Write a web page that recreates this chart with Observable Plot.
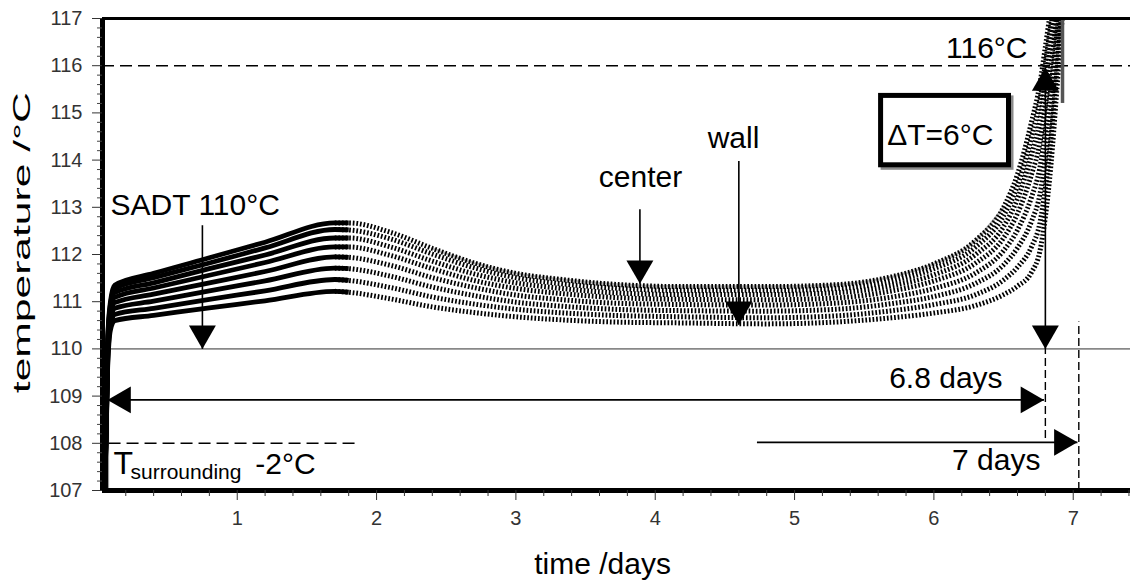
<!DOCTYPE html>
<html><head><meta charset="utf-8">
<script src="https://cdn.jsdelivr.net/npm/d3@7"></script>
<script src="https://cdn.jsdelivr.net/npm/@observablehq/plot@0.6"></script>
<style>
html,body{margin:0;padding:0;background:#fff;}
#chart{width:1130px;height:580px;overflow:hidden;}
</style></head><body><div id="chart"></div>
<script>
// ---- data ----
const days = [0.05, 0.07, 0.09, 0.12, 0.4, 0.8, 1.2, 1.7, 1.8, 2.1, 2.4, 2.7, 3.0, 3.3, 3.7, 4.2, 4.8, 5.3, 5.7, 6.0, 6.3, 6.5, 6.6, 6.7, 6.76, 6.8, 6.84, 6.88, 6.92];
const curveCenter = [107.0, 110.2, 111.0, 111.35, 111.6, 111.93, 112.26, 112.67, 112.67, 112.47, 112.13, 111.82, 111.6, 111.48, 111.37, 111.32, 111.32, 111.36, 111.53, 111.8, 112.3, 113.0, 113.7, 114.8, 115.6, 116.4, 117.2, 117.8, 118.4];
const curve2 = [107.0, 110.14, 110.94, 111.28, 111.51, 111.82, 112.14, 112.53, 112.52, 112.33, 112.01, 111.72, 111.51, 111.39, 111.29, 111.24, 111.24, 111.28, 111.44, 111.70, 112.16, 112.82, 113.46, 114.48, 115.25, 116.04, 116.87, 117.56, 118.26];
const curve3 = [107.0, 110.07, 110.87, 111.19, 111.40, 111.70, 111.99, 112.35, 112.35, 112.16, 111.86, 111.59, 111.40, 111.29, 111.19, 111.15, 111.15, 111.19, 111.34, 111.57, 112.00, 112.59, 113.18, 114.10, 114.82, 115.61, 116.47, 117.27, 118.09];
const curve4 = [107.0, 109.99, 110.79, 111.09, 111.29, 111.56, 111.83, 112.16, 112.16, 111.98, 111.70, 111.45, 111.28, 111.18, 111.09, 111.05, 111.04, 111.08, 111.23, 111.44, 111.82, 112.35, 112.87, 113.69, 114.36, 115.14, 116.05, 116.96, 117.91];
const curve5 = [107.0, 109.9, 110.7, 110.98, 111.16, 111.40, 111.64, 111.95, 111.94, 111.77, 111.51, 111.30, 111.14, 111.05, 110.97, 110.94, 110.93, 110.97, 111.10, 111.28, 111.61, 112.08, 112.52, 113.21, 113.83, 114.60, 115.55, 116.60, 117.70];
const curve6 = [107.0, 109.8, 110.6, 110.86, 111.01, 111.23, 111.44, 111.71, 111.70, 111.54, 111.31, 111.13, 110.99, 110.91, 110.84, 110.81, 110.80, 110.84, 110.96, 111.11, 111.39, 111.78, 112.14, 112.70, 113.26, 114.02, 115.02, 116.22, 117.48];
const curve7 = [107.0, 109.7, 110.5, 110.73, 110.86, 111.05, 111.23, 111.47, 111.45, 111.30, 111.10, 110.95, 110.84, 110.77, 110.71, 110.68, 110.66, 110.70, 110.81, 110.94, 111.15, 111.46, 111.73, 112.16, 112.66, 113.41, 114.46, 115.81, 117.24];
const curveWall = [107.0, 109.6, 110.4, 110.6, 110.71, 110.87, 111.02, 111.22, 111.2, 111.06, 110.89, 110.77, 110.68, 110.62, 110.57, 110.55, 110.53, 110.57, 110.66, 110.76, 110.92, 111.15, 111.33, 111.62, 112.06, 112.8, 113.9, 115.4, 117.0];

const xTicks = [1, 2, 3, 4, 5, 6, 7];
const xMinorTicks = [0.2,0.4,0.6,0.8,1.2,1.4,1.6,1.8,2.2,2.4,2.6,2.8,3.2,3.4,3.6,3.8,4.2,4.4,4.6,4.8,5.2,5.4,5.6,5.8,6.2,6.4,6.6,6.8,7.2,7.4];
const yTicks = [107, 108, 109, 110, 111, 112, 113, 114, 115, 116, 117];
const yMinorTicks = d3.range(107.2, 117, 0.2).filter(v => Math.abs(v - Math.round(v)) > 0.05);
const xDomain = [0.033, 7.411];
const yDomain = [107, 117];

// reference levels and annotations (chart units)
const sadtLevel = [110];
const limitLevel = [116];
const surroundLevel = [{y: 108, x1: 0.08, x2: 1.87}];
const shafts = [
  {x1: 0.75, y1: 112.62, x2: 0.75, y2: 110.0},
  {x1: 3.89, y1: 112.96, x2: 3.89, y2: 111.38},
  {x1: 4.6, y1: 113.98, x2: 4.6, y2: 110.51},
  {x1: 6.8, y1: 115.96, x2: 6.8, y2: 110.0},
  {x1: 0.069, y1: 108.92, x2: 6.79, y2: 108.92},
  {x1: 4.73, y1: 108.02, x2: 7.03, y2: 108.02}
];
const heads = [
  {x: 0.75, y: 110.0, dir: "down"},
  {x: 3.89, y: 111.38, dir: "down"},
  {x: 4.6, y: 110.51, dir: "down"},
  {x: 6.8, y: 110.0, dir: "down"},
  {x: 6.8, y: 115.96, dir: "up"},
  {x: 0.069, y: 108.92, dir: "left"},
  {x: 6.79, y: 108.92, dir: "right"},
  {x: 7.03, y: 108.02, dir: "right"}
];
const dashedVerticals = [{x: 7.04, y1: 107, y2: 110.57}, {x: 6.8, y1: 108.1, y2: 110}];
const boxDT = [{x1: 5.621, x2: 6.539, y1: 113.89, y2: 115.36}];
const labelsStart = [{x: 0.091, y: 112.83, text: "SADT 110°C"}, {x: 1.13, y: 107.36, text: "-2°C"}];
const labelsMiddle = [{x: 3.894, y: 113.42, text: "center"}, {x: 4.562, y: 114.25, text: "wall"}, {x: 6.046, y: 114.31, text: "ΔT=6°C"}];
const labelsEnd = [{x: 6.672, y: 116.17, text: "116°C"}, {x: 6.493, y: 109.18, text: "6.8 days"}, {x: 6.765, y: 107.44, text: "7 days"}];
const tLabel = [{x: 0.112, y: 107.36, text: "T"}];
const subLabel = [{x: 0.234, y: 107.25, text: "surrounding"}];

// ---- build table ----
const curves = [curveCenter, curve2, curve3, curve4, curve5, curve6, curve7, curveWall];
const rows = [];
curves.forEach((c, k) => c.forEach((v, i) => rows.push({curve: k, i, t: days[i], T: v})));
const leftRows = rows.filter(d => d.t <= 1.8);
const rightRows = rows.filter(d => d.t >= 1.7);
const centerGray = rows.filter(d => d.curve === 0 && d.t >= 2.4 && d.t <= 6.5);

const font = "Arial, 'Liberation Sans', sans-serif";
const headR = 10, tipOff = 15.5;

const chart = Plot.plot({
  width: 1130, height: 580,
  marginTop: 18, marginRight: 0, marginBottom: 90, marginLeft: 102,
  style: {fontFamily: font, fontSize: "20px", background: "#fff", overflow: "visible"},
  x: {domain: xDomain, label: null},
  y: {domain: yDomain, label: null},
  marks: [
    Plot.ruleY(sadtLevel, {x1: 0.075, x2: xDomain[1], stroke: "#888", strokeWidth: 1.6}),
    Plot.ruleX([0.075], {y1: 107, y2: 110.3, stroke: "#999", strokeWidth: 1.5}),
    Plot.ruleX([0.063], {y1: 107, y2: 109.5, stroke: "#000", strokeWidth: 1.3, strokeDasharray: "6,2,2,2"}),
    Plot.line(centerGray, {x: "t", y: "T", stroke: "#bbb", strokeWidth: 2.5, curve: "monotone-x", clip: true}),
    Plot.line(leftRows, {x: "t", y: "T", z: "curve", stroke: "#000", strokeWidth: 4.8, strokeLinecap: "butt", curve: "monotone-x", clip: true}),
    Plot.line(rightRows, {x: "t", y: "T", z: "curve", stroke: "#000", strokeWidth: 5, strokeLinecap: "butt", strokeLinejoin: "miter", strokeDasharray: "1.7,1.9", curve: "monotone-x", clip: true}),
    Plot.ruleY(limitLevel, {stroke: "#000", strokeWidth: 1.6, strokeDasharray: "12,6"}),
    Plot.ruleY(surroundLevel, {y: "y", x1: "x1", x2: "x2", stroke: "#000", strokeWidth: 1.6, strokeDasharray: "12,6"}),
    Plot.ruleX([6.923], {y1: 115.2, y2: 117, stroke: "#555", strokeWidth: 3.5}),
    Plot.ruleX(dashedVerticals, {x: "x", y1: "y1", y2: "y2", stroke: "#000", strokeWidth: 1.4, strokeDasharray: "8,4"}),
    Plot.link(shafts, {x1: "x1", y1: "y1", x2: "x2", y2: "y2", stroke: "#000", strokeWidth: 1.6}),
    Plot.dot(heads.filter(d => d.dir === "down"), {x: "x", y: "y", symbol: "triangle", r: headR, rotate: 180, dy: -tipOff, fill: "#000", stroke: "none"}),
    Plot.dot(heads.filter(d => d.dir === "up"), {x: "x", y: "y", symbol: "triangle", r: headR, rotate: 0, dy: tipOff, fill: "#000", stroke: "none"}),
    Plot.dot(heads.filter(d => d.dir === "left"), {x: "x", y: "y", symbol: "triangle", r: headR, rotate: -90, dx: tipOff, fill: "#000", stroke: "none"}),
    Plot.dot(heads.filter(d => d.dir === "right"), {x: "x", y: "y", symbol: "triangle", r: headR, rotate: 90, dx: -tipOff, fill: "#000", stroke: "none"}),
    Plot.rect(boxDT, {x1: "x1", x2: "x2", y1: "y1", y2: "y2", fill: "none", stroke: "#8a8a8a", strokeWidth: 5, dx: 2.5, dy: 2.5}),
    Plot.rect(boxDT, {x1: "x1", x2: "x2", y1: "y1", y2: "y2", fill: "#fff", stroke: "#000", strokeWidth: 5}),
    Plot.text(labelsStart, {x: "x", y: "y", text: "text", textAnchor: "start", lineAnchor: "bottom", fontSize: 30, fill: "#000"}),
    Plot.text(labelsMiddle, {x: "x", y: "y", text: "text", textAnchor: "middle", lineAnchor: "bottom", fontSize: 30, fill: "#000"}),
    Plot.text(labelsEnd, {x: "x", y: "y", text: "text", textAnchor: "end", lineAnchor: "bottom", fontSize: 30, fill: "#000"}),
    Plot.text(tLabel, {x: "x", y: "y", text: "text", textAnchor: "start", lineAnchor: "bottom", fontSize: 32, fill: "#000"}),
    Plot.text(subLabel, {x: "x", y: "y", text: "text", textAnchor: "start", lineAnchor: "bottom", fontSize: 21, fill: "#000"}),
    // frame
    Plot.ruleY([yDomain[1]], {stroke: "#000", strokeWidth: 3}),
    Plot.ruleY([yDomain[0]], {stroke: "#000", strokeWidth: 5}),
    Plot.ruleX([xDomain[0]], {stroke: "#000", strokeWidth: 5}),
    // axes
    Plot.axisY(yTicks, {tickSize: 10, tickPadding: 10, fontSize: 20, color: "#333", label: null, tickFormat: d3.format("d")}),
    Plot.axisY(yMinorTicks, {tickSize: 5, tickFormat: () => "", color: "#444", label: null}),
    Plot.axisX(xTicks, {tickSize: 10, tickPadding: 10, fontSize: 20, color: "#333", label: null, tickFormat: d3.format("d")}),
    Plot.axisX(xMinorTicks, {tickSize: 6, tickFormat: () => "", color: "#333", label: null}),
    // axis titles
    Plot.text(["time /days"], {x: 3.622, frameAnchor: "bottom", dy: 83, textAnchor: "middle", lineAnchor: "bottom", fontSize: 30, fill: "#000"}),
    Plot.text(["temperature /°C"], {y: 112.25, frameAnchor: "left", dx: -73, rotate: -90, textAnchor: "middle", lineAnchor: "bottom", fontSize: 23, fill: "#000"})
  ]
});
document.getElementById("chart").appendChild(chart);
const svg = d3.select(chart);
svg.selectAll("text").each(function () {
  const el = d3.select(this);
  const s = this.textContent;
  if (s === "temperature /°C") {
    el.attr("font-size", 24).style("font-size", "24px")
      .attr("textLength", 301).attr("lengthAdjust", "spacingAndGlyphs");
  } else if (/^\d+$/.test(s)) {
    el.attr("font-size", 20).style("font-size", "20px");
  }
});
</script></body></html>
